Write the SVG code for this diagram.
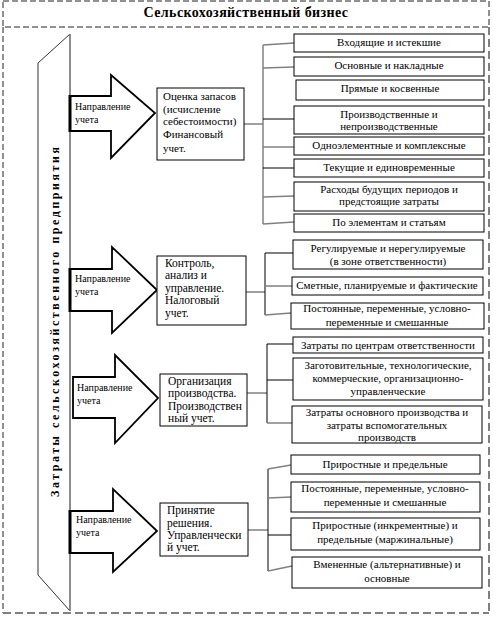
<svg xmlns="http://www.w3.org/2000/svg" width="504" height="620" viewBox="0 0 504 620" font-family="Liberation Serif, Times New Roman, serif">
<style>
  .bg{fill:#fff}
  .box{fill:#fff;stroke:#000;stroke-width:1}
  .arrow{fill:#fff;stroke:#000;stroke-width:1.8;stroke-linejoin:miter}
  .tail{stroke:#000;stroke-width:3}
  .t{font-family:Liberation Serif, serif;font-size:11px;fill:#000}
  .c{text-anchor:middle}
  .lbl{font-family:Liberation Serif, serif;font-size:10px;fill:#000}
  .lt{font-family:Liberation Serif, serif;font-size:11.5px;fill:#000}
  .ln{stroke:#000;stroke-width:1;fill:none}
  .g{stroke:#808080;stroke-width:1.5;fill:none}
  .dash{fill:none;stroke:#222;stroke-width:1;stroke-dasharray:6 3}
  .dashg{fill:none;stroke:#808080;stroke-width:2;stroke-dasharray:8 4}
</style>
<rect class="bg" x="0" y="0" width="504" height="620"/>

<g id="frame">
  <rect class="dash" x="3" y="1" width="486" height="26"/>
  <line class="dash" x1="3" y1="27" x2="3" y2="613"/>
  <line class="dashg" x1="489" y1="27" x2="489" y2="613"/>
  <line class="dashg" x1="3" y1="613" x2="489" y2="613"/>
  <text x="246" y="17" text-anchor="middle" font-family="Liberation Serif, Times New Roman, serif" font-size="14" font-weight="bold" letter-spacing="0.4">Сельскохозяйственный бизнес</text>
</g>

<g id="banner">
  <polygon points="38,63 70,34 70,611 38,575" fill="#fff" stroke="#333" stroke-width="1"/>
  <line x1="70" y1="34" x2="70" y2="611" stroke="#888" stroke-width="1.5"/>
  <text transform="translate(59,322) rotate(-90)" text-anchor="middle" font-family="Liberation Serif, Times New Roman, serif" font-size="12" font-weight="bold" textLength="350" lengthAdjust="spacing">Затраты сельскохозяйственного предприятия</text>
</g>

<g id="connectors">
  <line class="g" x1="244" y1="124" x2="263" y2="124"/>
  <line class="g" x1="263" y1="45" x2="263" y2="224"/>
  <line class="g" x1="263" y1="45" x2="294" y2="43"/>
  <line class="g" x1="263" y1="68" x2="294" y2="67"/>
  <line class="ln" x1="263" y1="119" x2="294" y2="119"/>
  <line class="g" x1="263" y1="147" x2="294" y2="147"/>
  <line class="ln" x1="263" y1="168" x2="294" y2="168"/>
  <line class="g" x1="263" y1="197" x2="294" y2="196"/>
  <line class="g" x1="263" y1="224" x2="294" y2="222"/>
  <line class="g" x1="246" y1="292" x2="265" y2="292"/>
  <line class="ln" x1="265" y1="253" x2="265" y2="315"/>
  <line class="ln" x1="265" y1="253" x2="293" y2="253"/>
  <line class="g" x1="265" y1="286" x2="292" y2="286"/>
  <line class="g" x1="265" y1="315" x2="291" y2="313"/>
  <line class="g" x1="247" y1="393" x2="267" y2="393"/>
  <line class="ln" x1="267" y1="344" x2="267" y2="423"/>
  <line class="ln" x1="267" y1="344" x2="293" y2="344"/>
  <line class="ln" x1="267" y1="380" x2="293" y2="380"/>
  <line class="g" x1="267" y1="423" x2="292" y2="423"/>
  <line class="g" x1="248" y1="530" x2="268" y2="530"/>
  <line class="ln" x1="268" y1="469" x2="268" y2="571"/>
  <line class="g" x1="268" y1="469" x2="291" y2="465"/>
  <line class="g" x1="268" y1="498" x2="291" y2="497"/>
  <line class="ln" x1="268" y1="535" x2="291" y2="535"/>
  <line class="g" x1="268" y1="571" x2="292" y2="566"/>
</g>

<g id="arrow1">
  <polygon class="arrow" points="70,96 111,96 111,75 155,113 111,158 111,131 70,131"/>
  <line class="tail" x1="70" y1="95" x2="70" y2="132"/>
  <text class="lbl" x="75" y="110">Направление</text>
  <text class="lbl" x="75" y="123">учета</text>
</g>
<g id="arrow2">
  <polygon class="arrow" points="70,269 112,269 112,247 157,290 112,333 112,311 70,311"/>
  <line class="tail" x1="70" y1="268" x2="70" y2="312"/>
  <text class="lbl" x="75" y="282">Направление</text>
  <text class="lbl" x="75" y="295">учета</text>
</g>
<g id="arrow3">
  <polygon class="arrow" points="73,377 115,377 115,355 158,398 115,443 115,418 73,418"/>
  <text class="lbl" x="77" y="391">Направление</text>
  <text class="lbl" x="77" y="404">учета</text>
</g>
<g id="arrow4">
  <polygon class="arrow" points="70,511 113,511 113,489 157,531 113,572 113,553 70,553"/>
  <line class="tail" x1="70" y1="510" x2="70" y2="554"/>
  <text class="lbl" x="76" y="523">Направление</text>
  <text class="lbl" x="76" y="536">учета</text>
</g>

<g id="box1">
  <rect class="box" x="157" y="88" width="87" height="72"/>
  <text class="t" x="163" y="100">Оценка запасов</text>
  <text class="t" x="163" y="113">(исчисление</text>
  <text class="t" x="163" y="125">себестоимости)</text>
  <text class="t" x="163" y="138">Финансовый</text>
  <text class="t" x="163" y="152">учет.</text>
</g>
<g id="box2">
  <rect class="box" x="157" y="256" width="89" height="69"/>
  <text class="lt" x="165" y="267">Контроль,</text>
  <text class="lt" x="165" y="279">анализ и</text>
  <text class="lt" x="165" y="292">управление.</text>
  <text class="lt" x="165" y="304">Налоговый</text>
  <text class="lt" x="165" y="317">учет.</text>
</g>
<g id="box3">
  <rect class="box" x="160" y="374" width="87" height="52"/>
  <text class="lt" x="168" y="385">Организация</text>
  <text class="lt" x="168" y="397">производства.</text>
  <text class="lt" x="168" y="410">Производствен</text>
  <text class="lt" x="168" y="422">ный учет.</text>
</g>
<g id="box4">
  <rect class="box" x="160" y="503" width="88" height="53"/>
  <text class="lt" x="167" y="514">Принятие</text>
  <text class="lt" x="167" y="527">решения.</text>
  <text class="lt" x="167" y="539">Управленчески</text>
  <text class="lt" x="167" y="551">й учет.</text>
</g>

<g id="r1-1"><rect class="box" x="294" y="34" width="190" height="18"/><text class="t c" x="389" y="46">Входящие и истекшие</text></g>
<g id="r1-2"><rect class="box" x="294" y="57" width="190" height="19"/><text class="t c" x="389" y="69">Основные и накладные</text></g>
<g id="r1-3"><rect class="box" x="296" y="80" width="188" height="20"/><text class="t c" x="390" y="92">Прямые и косвенные</text></g>
<g id="r1-4"><rect class="box" x="294" y="106" width="190" height="28"/><text class="t c" x="389" y="118">Производственные и</text><text class="t c" x="389" y="130">непроизводственные</text></g>
<g id="r1-5"><rect class="box" x="294" y="137" width="190" height="18"/><text class="t c" x="389" y="149">Одноэлементные и комплексные</text></g>
<g id="r1-6"><rect class="box" x="294" y="159" width="190" height="18"/><text class="t c" x="389" y="171">Текущие и единовременные</text></g>
<g id="r1-7"><rect class="box" x="294" y="182" width="190" height="29"/><text class="t c" x="389" y="193">Расходы будущих периодов и</text><text class="t c" x="389" y="205">предстоящие затраты</text></g>
<g id="r1-8"><rect class="box" x="294" y="214" width="190" height="18"/><text class="t c" x="389" y="226">По элементам и статьям</text></g>

<g id="r2-1"><rect class="box" x="293" y="240" width="190" height="29"/><text class="t c" x="388" y="252">Регулируемые и нерегулируемые</text><text class="t c" x="388" y="265">(в зоне ответственности)</text></g>
<g id="r2-2"><rect class="box" x="292" y="277" width="191" height="18"/><text class="t c" x="387" y="289">Сметные, планируемые и фактические</text></g>
<g id="r2-3"><rect class="box" x="291" y="303" width="193" height="26"/><text class="t c" x="387" y="312">Постоянные, переменные, условно-</text><text class="t c" x="387" y="326">переменные и смешанные</text></g>

<g id="r3-1"><rect class="box" x="293" y="337" width="190" height="16"/><text class="t c" x="388" y="349">Затраты по центрам ответственности</text></g>
<g id="r3-2"><rect class="box" x="293" y="358" width="190" height="42"/><text class="t c" x="388" y="369">Заготовительные, технологические,</text><text class="t c" x="388" y="382">коммерческие, организационно-</text><text class="t c" x="388" y="395">управленческие</text></g>
<g id="r3-3"><rect class="box" x="292" y="406" width="190" height="37"/><text class="t c" x="387" y="416">Затраты основного производства и</text><text class="t c" x="387" y="429">затраты вспомогательных</text><text class="t c" x="387" y="441">производств</text></g>

<g id="r4-1"><rect class="box" x="291" y="455" width="189" height="19"/><text class="t c" x="385" y="468">Приростные и предельные</text></g>
<g id="r4-2"><rect class="box" x="291" y="482" width="189" height="30"/><text class="t c" x="385" y="492">Постоянные, переменные, условно-</text><text class="t c" x="385" y="506">переменные и смешанные</text></g>
<g id="r4-3"><rect class="box" x="291" y="518" width="189" height="32"/><text class="t c" x="385" y="529">Приростные (инкрементные) и</text><text class="t c" x="385" y="543">предельные (маржинальные)</text></g>
<g id="r4-4"><rect class="box" x="292" y="557" width="190" height="31"/><text class="t c" x="387" y="568">Вмененные (альтернативные) и</text><text class="t c" x="387" y="582">основные</text></g>
</svg>
